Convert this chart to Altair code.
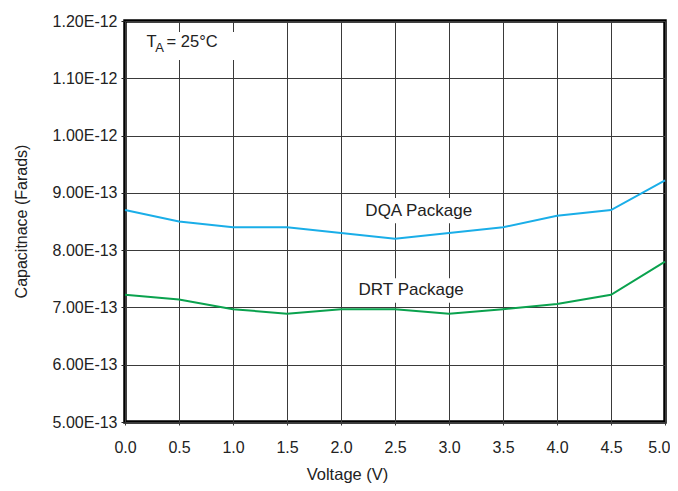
import altair as alt
import pandas as pd

voltage = [0.0, 0.5, 1.0, 1.5, 2.0, 2.5, 3.0, 3.5, 4.0, 4.5, 5.0]
dqa = [8.70e-13, 8.50e-13, 8.40e-13, 8.40e-13, 8.30e-13, 8.20e-13, 8.30e-13, 8.40e-13, 8.60e-13, 8.70e-13, 9.22e-13]
drt = [7.22e-13, 7.14e-13, 6.97e-13, 6.89e-13, 6.97e-13, 6.97e-13, 6.89e-13, 6.97e-13, 7.06e-13, 7.22e-13, 7.80e-13]
series_names = ["DQA Package", "DRT Package"]
series_colors = ["#1AAEE8", "#0AA24E"]
y_ticks = [5e-13, 6e-13, 7e-13, 8e-13, 9e-13, 1.0e-12, 1.1e-12, 1.2e-12]
x_ticks = [0.0, 0.5, 1.0, 1.5, 2.0, 2.5, 3.0, 3.5, 4.0, 4.5, 5.0]

# labels on the chart (text, x, y) and their white boxes
label_text = ["DQA Package", "DRT Package"]
label_x = [2.72, 2.65]
label_y = [8.68e-13, 7.30e-13]
box_x = [2.18, 2.12, 0.12]
box_x2 = [3.26, 3.19, 1.05]
box_y = [8.91e-13, 7.51e-13, 1.181e-12]
box_y2 = [8.47e-13, 7.08e-13, 1.132e-12]

rows = []
for name, vals in zip(series_names, [dqa, drt]):
    for v, c in zip(voltage, vals):
        rows.append({"Voltage": v, "Capacitance": c, "Series": name})
df = pd.DataFrame(rows)

FONT = "Liberation Sans"

x_scale = alt.Scale(domain=[0, 5], nice=False, zero=False)
y_scale = alt.Scale(domain=[5e-13, 1.2e-12], nice=False, zero=False)

lines = alt.Chart(df).mark_line(strokeWidth=2).encode(
    x=alt.X("Voltage:Q", scale=x_scale,
            axis=alt.Axis(values=x_ticks, format=".1f", title="Voltage (V)",
                          grid=True, gridColor="#3a3a3a", gridWidth=1, gridOpacity=1,
                          domain=False, tickSize=3, tickColor="#3a3a3a",
                          labelPadding=14, labelFontSize=16, labelFont=FONT,
                          labelColor="#222", titleFont=FONT, titleFontSize=16.5,
                          titleFontWeight="normal", titleColor="#222",
                          titleX=222, titleY=52, titleBaseline="middle",
                          titleAnchor="start", titleAlign="center", labelFlush=False,
                          labelAlign={"condition": {"test": "datum.value >= 5", "value": "right"},
                                      "value": "center"},
                          labelOffset={"condition": {"test": "datum.value >= 5", "value": 5},
                                       "value": 0})),
    y=alt.Y("Capacitance:Q", scale=y_scale,
            axis=alt.Axis(values=y_ticks,
                          labelExpr="replace(format(datum.value, '.2e'), 'e', 'E')",
                          title="Capacitnace (Farads)",
                          grid=True, gridColor="#3a3a3a", gridWidth=1, gridOpacity=1,
                          domain=False, tickSize=4, tickColor="#222",
                          labelPadding=4, labelFontSize=16, labelFont=FONT,
                          labelColor="#222", titleFont=FONT, titleFontSize=16,
                          titleFontWeight="normal", titleColor="#222",
                          titleX=-104, titleY=200, titleAngle=270,
                          titleBaseline="middle", titleAlign="center", labelFlush=False)),
    color=alt.Color("Series:N", scale=alt.Scale(domain=series_names, range=series_colors),
                    legend=None),
)

boxes_df = pd.DataFrame({"x": box_x, "x2": box_x2, "y": box_y, "y2": box_y2})
boxes = alt.Chart(boxes_df).mark_rect(color="white").encode(
    x=alt.X("x:Q", scale=x_scale), x2="x2:Q",
    y=alt.Y("y:Q", scale=y_scale), y2="y2:Q",
)

labels_df = pd.DataFrame({"text": label_text, "x": label_x, "y": label_y})
labels = alt.Chart(labels_df).mark_text(font=FONT, fontSize=17, color="#222",
                                        align="center", baseline="middle").encode(
    x=alt.X("x:Q", scale=x_scale), y=alt.Y("y:Q", scale=y_scale), text="text:N"
)

ta_text = ["T", "A", "= 25°C"]
ta_x = [0.20, 0.28, 0.385]
ta_y = [1.163e-12, 1.152e-12, 1.163e-12]
ta_size = [16.5, 13, 16.5]
ta_df = pd.DataFrame({"text": ta_text, "x": ta_x, "y": ta_y, "size": ta_size})
ta = alt.Chart(ta_df).mark_text(font=FONT, color="#222", align="left",
                                baseline="middle").encode(
    x=alt.X("x:Q", scale=x_scale), y=alt.Y("y:Q", scale=y_scale), text="text:N",
    size=alt.Size("size:Q", scale=None, legend=None),
)

chart = alt.layer(lines, boxes, labels, ta).properties(
    width=540, height=401,
    background="white",
    autosize=alt.AutoSizeParams(type="none"),
    padding={"left": 117, "top": 13, "right": 5, "bottom": 61},
).configure_view(stroke="black", strokeWidth=3.5)

chart.save("out.html", embed_options={"renderer": "svg", "actions": False})
